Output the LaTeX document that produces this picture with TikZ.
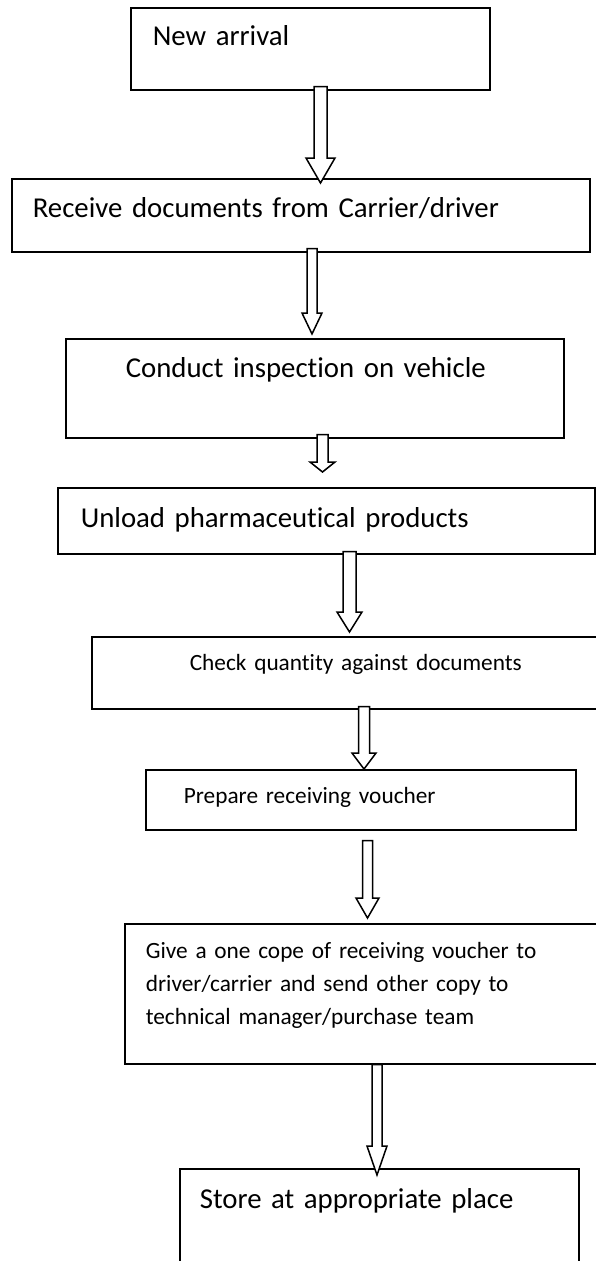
\documentclass[tikz,border=0pt]{standalone}
\usepackage{fontspec}
\setmainfont{Carlito}[Ligatures=NoCommon]
\usetikzlibrary{calc}

\newcommand{\bigtext}{\fontsize{28.8}{35}\selectfont}
\newcommand{\smalltext}{\fontsize{23.3}{33}\selectfont}

% hollow block arrow: from, to, x, start shift, tip gap, shaft half width, head half width, head length
\newcommand{\flowarrow}[8]{%
  \draw[hollowarrow] let \p1=(#1.south), \p2=(#2.north) in
    ({#3pt-#6pt},{\y1+#4pt}) -- ({#3pt-#6pt},{\y2+#5pt+#8pt}) -- ({#3pt-#7pt},{\y2+#5pt+#8pt})
    -- ({#3pt},{\y2+#5pt}) -- ({#3pt+#7pt},{\y2+#5pt+#8pt}) -- ({#3pt+#6pt},{\y2+#5pt+#8pt})
    -- ({#3pt+#6pt},{\y1+#4pt}) -- cycle;}

\begin{document}
\begin{tikzpicture}[x=1pt, y=-1pt,
    stepbox/.style={draw, line width=1.6pt, anchor=north west, inner sep=0pt, align=left, font=\bigtext},
    hollowarrow/.style={draw, fill=white, line width=1.5pt, line join=miter}]
        \useasboundingbox (0,0) rectangle (596,1261);
        \clip (0,0) rectangle (596,1261);

        % New arrival
        \node[stepbox, text width=359pt, text height=38pt, text depth=44pt] (arrival) at (130,7) {\hspace*{22pt}New arrival};

        % Receive documents
        \node[stepbox, text width=578pt, text height=39pt, text depth=34pt] (documents) at (11,178) {\hspace*{21pt}Receive documents from Carrier/driver};

        % Inspection
        \node[stepbox, text width=498pt, text height=39pt, text depth=60pt] (inspection) at (65,338) {\hspace*{60pt}Conduct inspection on vehicle};

        % Unload
        \node[stepbox, text width=537pt, text height=40pt, text depth=26pt] (unload) at (57,487) {\hspace*{23pt}Unload pharmaceutical products};

        % Check quantity
        \node[stepbox, font=\smalltext, text width=521pt, text height=34pt, text depth=38pt] (quantity) at (91,636) {\hspace*{98pt}Check quantity against documents};

        % Voucher
        \node[stepbox, font=\smalltext, text width=430pt, text height=34pt, text depth=26pt] (voucher) at (145,769) {\hspace*{38pt}Prepare receiving voucher};

        % Copies
        \node[stepbox, font=\smalltext, text width=488pt, text height=35pt, text depth=105pt] (copies) at (124,923) {\leftskip=21pt Give a one cope of receiving voucher to\\driver/carrier and send other copy to\\technical manager/purchase team\par};

        % Store
        \node[stepbox, text width=399pt, text height=40pt, text depth=67pt] (store) at (179,1168) {\hspace*{20pt}Store at appropriate place};

        % Arrows
        \flowarrow{arrival}{documents}{320.5}{4}{-5}{6.5}{14.5}{25}
        \flowarrow{documents}{inspection}{312}{4}{4}{5}{10}{21}
        \flowarrow{inspection}{unload}{322.5}{4}{15}{5.5}{12.5}{10}
        \flowarrow{unload}{quantity}{349.5}{3}{4}{6.5}{12.5}{20}
        \flowarrow{quantity}{voucher}{364}{3}{0}{5.5}{12}{16}
        \flowarrow{voucher}{copies}{367.5}{-10}{5}{5}{11.5}{20}
        \flowarrow{copies}{store}{377}{0}{-7}{5}{10}{29}
    \end{tikzpicture}
\end{document}
